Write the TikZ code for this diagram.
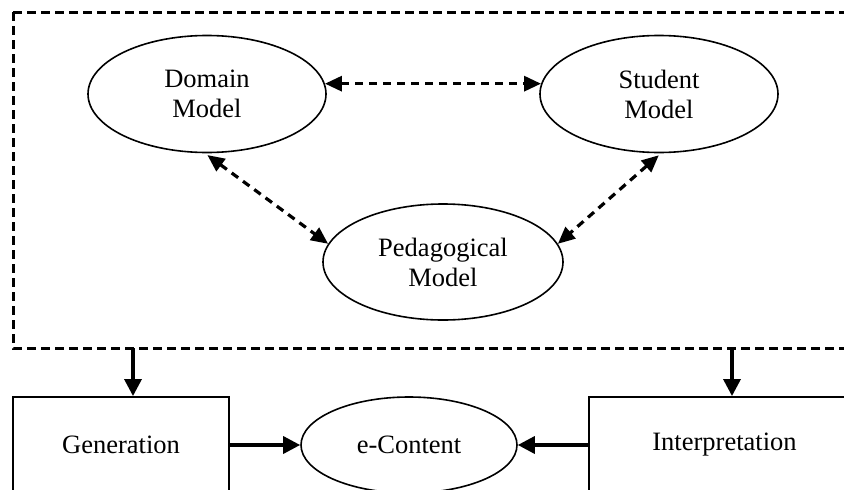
\documentclass[tikz,border=0pt]{standalone}
\usepackage{fontspec}
\setmainfont{Liberation Serif}
\usetikzlibrary{shapes.geometric,arrows.meta}
\begin{document}
\begin{tikzpicture}[x=1pt,y=-1pt,
  every node/.style={font=\fontsize{26.5}{30}\selectfont, align=center, inner sep=0pt},
  model/.style={ellipse, draw, line width=1.6pt, minimum width=238pt, minimum height=117pt},
  stage/.style={rectangle, draw, line width=1.9pt},
  frameline/.style={line width=3pt, dash pattern=on 9pt off 5pt},
  link/.style={line width=3.2pt, dash pattern=on 8pt off 6pt, {Triangle[length=17pt,width=15pt]}-{Triangle[length=17pt,width=15pt]}},
  flow/.style={line width=3.4pt, -{Triangle[length=17pt,width=17pt]}}]
  \useasboundingbox (0,0) rectangle (844,490);
  \fill[white] (0,0) rectangle (844,490);
  \clip (0,0) rectangle (844,490);

  % dashed frame around the three models
  \draw[frameline] (13,12) -- (950,12);
  \draw[frameline] (13,12) -- (13,348) -- (950,348);

  % models
  \node[model] (dom) at (207,94) {Domain\\Model};
  \node[model] (stu) at (659,94) {Student\\Model};
  \node[model, minimum width=240pt, minimum height=116pt] (ped) at (443,262) {Pedagogical\\Model};

  % stages
  \node[stage, minimum width=216pt, minimum height=96pt] (gen) at (121,445) {Generation};
  \node[stage, minimum width=271pt, minimum height=96pt] (int) at (724.5,445) {Interpretation};
  \node[model, minimum width=216pt, minimum height=96pt] (econ) at (409,445) {e-Content};

  % links between models
  \draw[link] (dom.5) -- (stu.175);
  \draw[link, shorten <=3pt] (dom.268) -- (ped.171);
  \draw[link, shorten <=3pt] (stu.272) -- (ped.9);

  % flows out of the frame
  \coordinate (fg) at (133,348);
  \coordinate (fi) at (732,348);
  \draw[flow] (fg) -- (fg |- gen.north);
  \draw[flow] (fi) -- (fi |- int.north);

  % flows into e-Content
  \draw[flow] (gen.east) -- (econ.west);
  \draw[flow] (int.west) -- (econ.east);
\end{tikzpicture}
\end{document}
